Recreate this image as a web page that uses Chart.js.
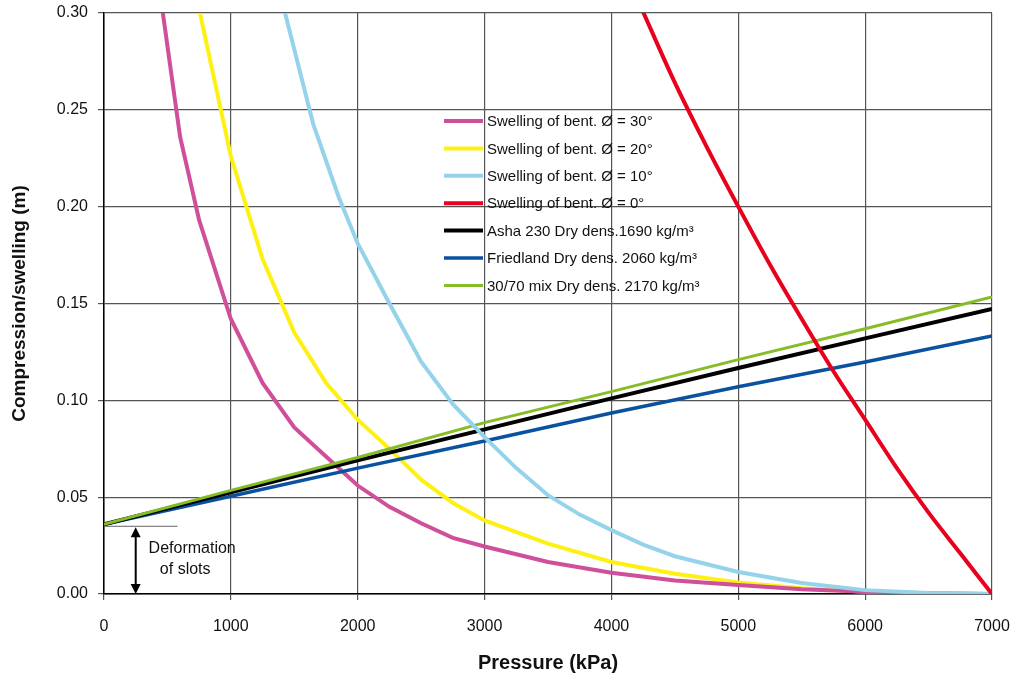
<!DOCTYPE html>
<html>
<head>
<meta charset="utf-8">
<title>Compression / swelling vs pressure</title>
<script src="https://cdn.jsdelivr.net/npm/chart.js@4/dist/chart.umd.min.js"></script>
<style>
  html, body { margin: 0; padding: 0; background: #fff; }
  #wrap { width: 1010px; height: 682px; }
</style>
</head>
<body>
<div id="wrap"><canvas id="myChart" width="1010" height="682"></canvas></div>
<script>
// swelling curves of the bentonite (pressure in kPa, swelling in m)
var press30 = [400, 600, 750, 1000, 1250, 1500, 1750, 2000, 2250, 2500, 2750, 3000, 3500, 4000, 4500, 5000, 5500, 6000, 6500, 7000];
var swell30 = [0.33, 0.236, 0.193, 0.142, 0.109, 0.086, 0.071, 0.056, 0.045, 0.0365, 0.029, 0.0245, 0.0165, 0.011, 0.007, 0.0046, 0.0025, 0.0012, 0.0004, 0];

var press20 = [740, 1000, 1250, 1500, 1750, 2000, 2250, 2500, 2750, 3000, 3500, 4000, 4500, 5000, 5500, 6000, 6500, 7000];
var swell20 = [0.305, 0.226, 0.173, 0.135, 0.109, 0.090, 0.075, 0.059, 0.047, 0.038, 0.026, 0.0165, 0.0105, 0.006, 0.003, 0.0012, 0.0003, 0];

var press10 = [1400, 1650, 1850, 2000, 2250, 2500, 2750, 3000, 3250, 3500, 3750, 4000, 4250, 4500, 5000, 5500, 6000, 6500, 7000];
var swell10 = [0.307, 0.2425, 0.205, 0.181, 0.150, 0.120, 0.098, 0.081, 0.065, 0.051, 0.041, 0.033, 0.0255, 0.0195, 0.0114, 0.0057, 0.002, 0.0005, 0];

var press0 = [4240, 4500, 4750, 5000, 5250, 5500, 5750, 6000, 6250, 6500, 6750, 7000];
var swell0 = [0.302, 0.264, 0.231, 0.200, 0.170, 0.142, 0.115, 0.090, 0.065, 0.042, 0.021, 0];

// compression of the backfill materials
var pressFill = [0, 1000, 2000, 3000, 4000, 5000, 6000, 7000];
var asha230 = [0.036, 0.0525, 0.069, 0.085, 0.101, 0.1167, 0.132, 0.1472];
var friedland = [0.036, 0.0505, 0.065, 0.079, 0.0935, 0.107, 0.1198, 0.1332];
var mix3070 = [0.036, 0.0535, 0.0705, 0.0885, 0.1045, 0.121, 0.137, 0.1534];

var slotDeformation = 0.036;

function pts(xs, ys) {
    var out = [];
    for (var i = 0; i < xs.length; i++) out.push({x: xs[i], y: ys[i]});
    return out;
}

var FONT = "'Liberation Sans', Arial, sans-serif";

var datasets = [
    {label: "Swelling of bent. \u00D8 = 30\u00B0", data: pts(press30, swell30), borderColor: "#cf4f9a", borderWidth: 4, order: 5},
    {label: "Swelling of bent. \u00D8 = 20\u00B0", data: pts(press20, swell20), borderColor: "#fff014", borderWidth: 4, order: 6},
    {label: "Swelling of bent. \u00D8 = 10\u00B0", data: pts(press10, swell10), borderColor: "#94d3ea", borderWidth: 4, order: 1},
    {label: "Swelling of bent. \u00D8 = 0\u00B0", data: pts(press0, swell0), borderColor: "#e8001c", borderWidth: 4, order: 0,
        cubicInterpolationMode: 'monotone'},
    {label: "Asha 230 Dry dens.1690 kg/m\u00B3", data: pts(pressFill, asha230), borderColor: "#000000", borderWidth: 4, order: 3},
    {label: "Friedland Dry dens. 2060 kg/m\u00B3", data: pts(pressFill, friedland), borderColor: "#0a52a0", borderWidth: 3.5, order: 4},
    {label: "30/70 mix Dry dens. 2170 kg/m\u00B3", data: pts(pressFill, mix3070), borderColor: "#86bc25", borderWidth: 3, order: 2}
];

// legend drawn inside the plot area
var insideLegend = {
    id: 'insideLegend',
    afterDatasetsDraw: function(chart) {
        var ctx = chart.ctx;
        var area = chart.chartArea;
        var x0 = area.left + 340;
        var y0 = area.top + 108;
        ctx.save();
        ctx.font = "15px " + FONT;
        ctx.textBaseline = 'middle';
        ctx.fillStyle = '#111';
        chart.data.datasets.forEach(function(ds, i) {
            var y = y0 + i * 27.4;
            ctx.strokeStyle = ds.borderColor;
            ctx.lineWidth = ds.borderWidth;
            ctx.beginPath();
            ctx.moveTo(x0, y);
            ctx.lineTo(x0 + 39, y);
            ctx.stroke();
            ctx.fillText(ds.label, x0 + 43, y + 1);
        });
        ctx.restore();
    }
};

// "Deformation of slots" marker at the start of the lines
var slotNote = {
    id: 'slotNote',
    afterDatasetsDraw: function(chart) {
        var ctx = chart.ctx;
        var xs = chart.scales.x, ys = chart.scales.y;
        var ax = xs.getPixelForValue(250);
        var yTop = ys.getPixelForValue(slotDeformation) + 2;
        var yBot = ys.getPixelForValue(0);
        ctx.save();
        ctx.strokeStyle = '#666';
        ctx.lineWidth = 1;
        ctx.beginPath();
        ctx.moveTo(xs.getPixelForValue(0), yTop);
        ctx.lineTo(xs.getPixelForValue(580), yTop);
        ctx.stroke();

        ctx.strokeStyle = '#000';
        ctx.fillStyle = '#000';
        ctx.lineWidth = 2;
        ctx.beginPath();
        ctx.moveTo(ax, yTop + 8);
        ctx.lineTo(ax, yBot - 8);
        ctx.stroke();
        ctx.beginPath();
        ctx.moveTo(ax, yTop + 1);
        ctx.lineTo(ax - 5, yTop + 11);
        ctx.lineTo(ax + 5, yTop + 11);
        ctx.closePath();
        ctx.fill();
        ctx.beginPath();
        ctx.moveTo(ax, yBot);
        ctx.lineTo(ax - 5, yBot - 10);
        ctx.lineTo(ax + 5, yBot - 10);
        ctx.closePath();
        ctx.fill();

        ctx.font = "16px " + FONT;
        ctx.textAlign = 'center';
        ctx.textBaseline = 'middle';
        ctx.fillStyle = '#111';
        ctx.fillText("Deformation", xs.getPixelForValue(695), ys.getPixelForValue(0.0232));
        ctx.fillText("of slots", xs.getPixelForValue(640), ys.getPixelForValue(0.0124));
        ctx.restore();
    }
};

var chart = new Chart(document.getElementById('myChart').getContext('2d'), {
    type: 'line',
    data: {datasets: datasets},
    plugins: [slotNote, insideLegend],
    options: {
        responsive: false,
        animation: false,
        layout: {padding: 0},
        elements: {
            point: {radius: 0},
            line: {tension: 0, borderCapStyle: 'butt'}
        },
        plugins: {
            legend: {display: false},
            tooltip: {enabled: false}
        },
        scales: {
            x: {
                type: 'linear',
                min: 0,
                max: 7000,
                afterFit: function(s) {
                    s.height = 88;
                    s.paddingLeft = 0;
                    s.paddingRight = 18;
                },
                ticks: {stepSize: 1000, padding: 17, color: '#111', font: {family: FONT, size: 16}, maxRotation: 0,
                    callback: function(v) { return String(v); }},
                grid: {color: '#555', lineWidth: 1.2, tickLength: 6},
                border: {color: '#000', width: 1.5},
                title: {display: true, text: 'Pressure (kPa)', color: '#111', font: {family: FONT, size: 20, weight: 'bold'}, padding: {top: 0, bottom: 7}}
            },
            y: {
                min: 0,
                max: 0.30,
                afterFit: function(s) {
                    s.width = 104;
                    s.paddingTop = 13;
                    s.paddingBottom = 0;
                },
                ticks: {stepSize: 0.05, padding: 10, color: '#111', font: {family: FONT, size: 16},
                    callback: function(v) { return v.toFixed(2); }},
                grid: {color: '#555', lineWidth: 1.2, tickLength: 6},
                border: {color: '#000', width: 1.5},
                title: {display: true, text: 'Compression/swelling (m)', color: '#111', font: {family: FONT, size: 19, weight: 'bold'}, padding: {top: 8, bottom: 0}}
            }
        }
    }
});
</script>
</body>
</html>
